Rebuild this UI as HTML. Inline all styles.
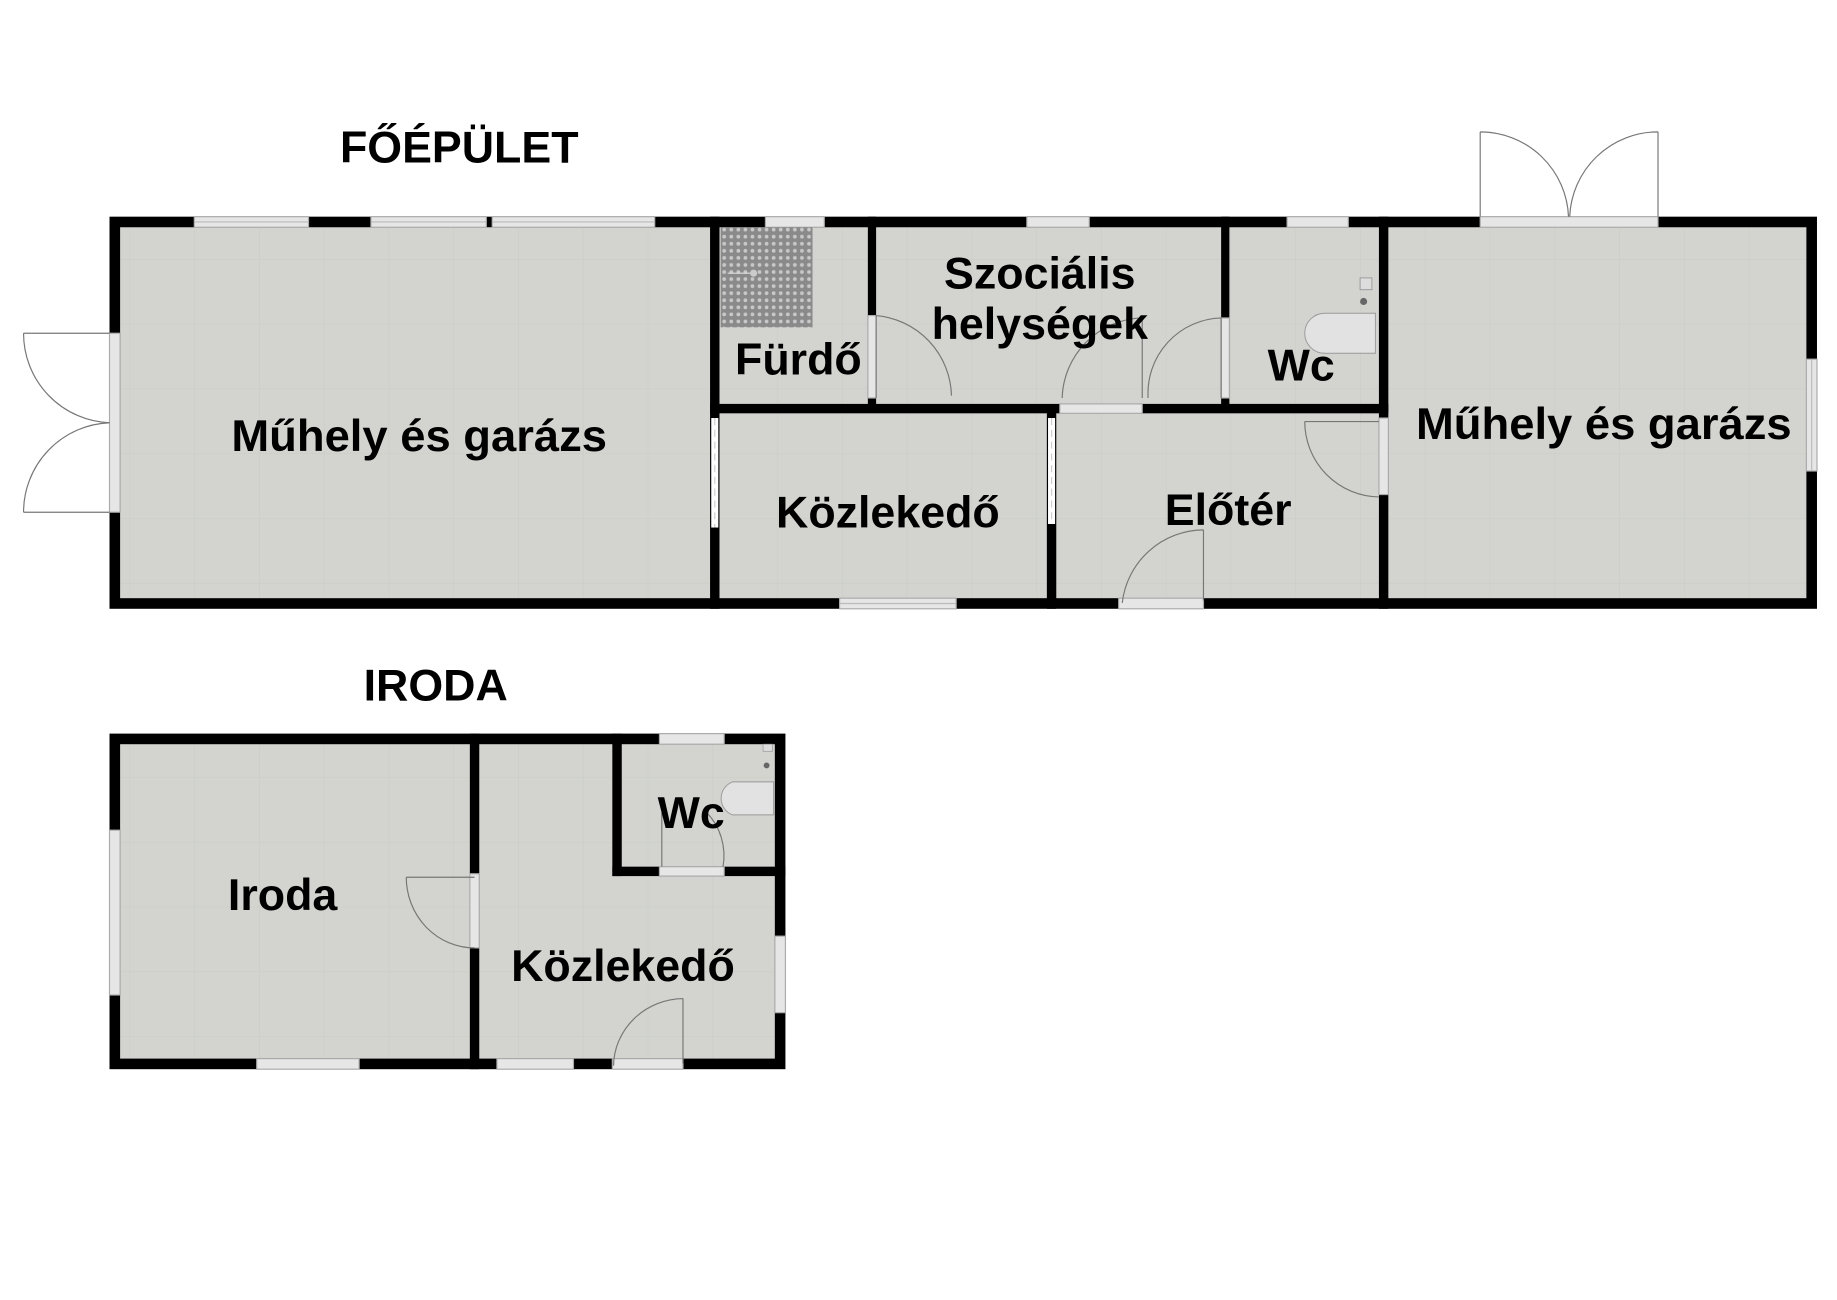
<!DOCTYPE html>
<html><head><meta charset="utf-8"><style>
html,body{margin:0;padding:0;background:#fff;}
svg{display:block;}
text{font-family:"Liberation Sans",Arial,sans-serif;font-weight:bold;fill:#000;text-anchor:middle;}
</style></head><body>
<svg width="1837" height="1300" viewBox="0 0 1560 1104" preserveAspectRatio="none" xmlns="http://www.w3.org/2000/svg">
<defs>
<pattern id="grid" width="55" height="55" patternUnits="userSpaceOnUse">
<rect width="55" height="55" fill="#d3d4cf"/>
<path d="M0 0H55M0 0V55" stroke="#cbccc7" stroke-width="1"/>
</pattern>
<pattern id="tile" width="6" height="6" patternUnits="userSpaceOnUse">
<rect width="6" height="6" fill="#8a8a8a"/>
<circle cx="3" cy="3" r="1.6" fill="#c8c8c8"/>
</pattern>
</defs>

<rect x="93" y="184" width="1450" height="333" fill="#000"/>
<rect x="102" y="193" width="1432" height="315" fill="url(#grid)"/>

<g fill="#000">
<rect x="603" y="184" width="8" height="333"/>
<rect x="737" y="184" width="7" height="84"/>
<rect x="737" y="338" width="7" height="10"/>
<rect x="603" y="343" width="297" height="8"/>
<rect x="970" y="343" width="209" height="8"/>
<rect x="1037" y="184" width="7" height="86"/>
<rect x="1037" y="338" width="7" height="8"/>
<rect x="1171" y="184" width="8" height="171"/>
<rect x="1171" y="420" width="8" height="97"/>
<rect x="889" y="347" width="8" height="170"/>
</g>

<g fill="#e6e6e6" stroke="#aaa" stroke-width="1">
<rect x="165" y="184" width="97" height="9"/>
<rect x="315" y="184" width="98" height="9"/>
<rect x="418" y="184" width="138" height="9"/>
<rect x="650" y="184" width="50" height="9"/>
<rect x="872" y="184" width="53" height="9"/>
<rect x="1093" y="184" width="52" height="9"/>
<rect x="1257" y="184" width="151" height="9"/>
<rect x="713" y="508" width="99" height="9"/>
<rect x="950" y="508" width="72" height="9"/>
<rect x="93" y="283" width="9" height="152"/>
<rect x="1534" y="305" width="9" height="95"/>
<rect x="737" y="268" width="7" height="70"/>
<rect x="1037" y="270" width="7" height="68"/>
<rect x="900" y="343" width="70" height="8"/>
<rect x="1171" y="355" width="8" height="65"/>
</g>
<g stroke="#bbb" stroke-width="1">
<line x1="165" y1="188.5" x2="262" y2="188.5"/><line x1="315" y1="188.5" x2="413" y2="188.5"/>
<line x1="418" y1="188.5" x2="556" y2="188.5"/><line x1="713" y1="512.5" x2="812" y2="512.5"/>
<line x1="1538.5" y1="305" x2="1538.5" y2="400"/>
</g>
<rect x="604" y="355" width="6" height="93" fill="#fff"/>
<rect x="890" y="355" width="6" height="90" fill="#fff"/>
<g stroke="#ccc" stroke-width="1" stroke-dasharray="6 4"><line x1="607" y1="355" x2="607" y2="448"/><line x1="893" y1="355" x2="893" y2="445"/></g>

<rect x="612" y="193" width="78" height="85" fill="url(#tile)"/>
<line x1="618" y1="232" x2="640" y2="232" stroke="#ddd" stroke-width="1"/>
<circle cx="640" cy="232" r="3" fill="#ccc"/>

<rect x="1155" y="236" width="10" height="10" fill="#ddd" stroke="#999" stroke-width="0.8"/>
<circle cx="1158" cy="256" r="3" fill="#666"/>
<path d="M1168 266 H1125 A17 17 0 0 0 1125 300 H1168 Z" fill="#e2e2e2" stroke="#999" stroke-width="0.8"/>

<g fill="none" stroke="#777" stroke-width="1">
<path d="M744 268 V338 M744 268 A70 70 0 0 1 808 336"/>
<path d="M970 270 V338 M970 270 A70 70 0 0 0 902 338"/>
<path d="M1037 270 V338 M1037 270 A64 64 0 0 0 975 338"/>
<path d="M1171 358 H1108 M1108 358 A64 64 0 0 0 1171 422"/>
<path d="M1022 450 V510 M1022 450 A70 70 0 0 0 953 512"/>
<path d="M1257 184 V112 M1257 112 A75 75 0 0 1 1332 184"/>
<path d="M1408 184 V112 M1408 112 A75 75 0 0 0 1333 184"/>
<path d="M93 283 H20 M20 283 A76 76 0 0 0 93 359"/>
<path d="M93 435 H20 M20 435 A76 76 0 0 1 93 359"/>
</g>

<rect x="93" y="623" width="574" height="285" fill="#000"/>
<rect x="102" y="632" width="556" height="267" fill="url(#grid)"/>
<g fill="#000">
<rect x="399" y="623" width="8" height="119"/>
<rect x="399" y="805" width="8" height="103"/>
<rect x="520" y="623" width="8" height="121"/>
<rect x="520" y="736" width="40" height="8"/>
<rect x="615" y="736" width="52" height="8"/>
</g>
<g fill="#e6e6e6" stroke="#aaa" stroke-width="1">
<rect x="560" y="623" width="55" height="9"/>
<rect x="93" y="705" width="9" height="140"/>
<rect x="218" y="899" width="87" height="9"/>
<rect x="422" y="899" width="65" height="9"/>
<rect x="520" y="899" width="60" height="9"/>
<rect x="658" y="795" width="9" height="65"/>
<rect x="399" y="742" width="8" height="63"/>
<rect x="560" y="736" width="55" height="8"/>
</g>
<rect x="648" y="632" width="8" height="6" fill="#ddd" stroke="#999" stroke-width="0.6"/>
<circle cx="651" cy="650" r="2.5" fill="#666"/>
<path d="M657 664 H622 A15 15 0 0 0 622 692 H657 Z" fill="#e2e2e2" stroke="#999" stroke-width="0.8"/>
<g fill="none" stroke="#777" stroke-width="1">
<path d="M403 745 H345 M345 745 A58 60 0 0 0 403 805"/>
<path d="M580 848 V903 M580 848 A60 58 0 0 0 521 905"/>
<path d="M562 690 V736 M600 690 A46 50 0 0 1 614 736"/>
</g>

<text x="390" y="138" font-size="38">FŐÉPÜLET</text>
<text x="370" y="595" font-size="38">IRODA</text>
<g font-size="38">
<text x="356" y="383" textLength="319" lengthAdjust="spacingAndGlyphs">Műhely és garázs</text>
<text x="1362" y="373" textLength="319" lengthAdjust="spacingAndGlyphs">Műhely és garázs</text>
<text x="678" y="318">Fürdő</text>
<text x="883" y="245">Szociális</text>
<text x="883" y="288">helységek</text>
<text x="1105" y="323">Wc</text>
<text x="754" y="448">Közlekedő</text>
<text x="1043" y="446">Előtér</text>
<text x="240" y="773">Iroda</text>
<text x="529" y="833">Közlekedő</text>
<text x="587" y="703">Wc</text>
</g>
</svg>
</body></html>
